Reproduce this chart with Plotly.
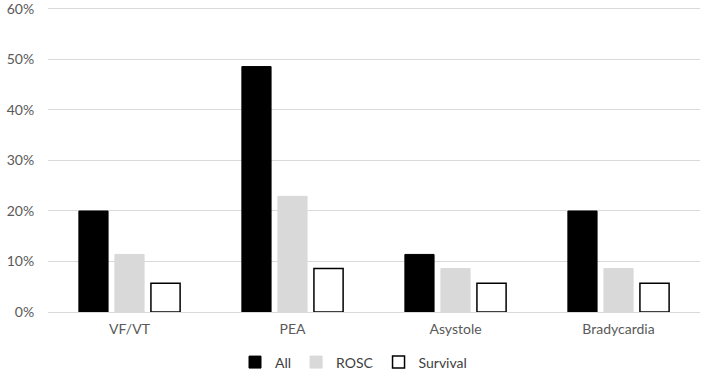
import plotly.graph_objects as go

categories = ["VF/VT", "PEA", "Asystole", "Bradycardia"]
all_vals = [20.0, 48.6, 11.4, 20.0]
rosc_vals = [11.4, 22.9, 8.6, 8.6]
survival_vals = [5.7, 8.6, 5.7, 5.7]
tick_vals = [0, 10, 20, 30, 40, 50, 60]
tick_text = ["0%", "10%", "20%", "30%", "40%", "50%", "60%"]

font = "Lato, 'Open Sans', sans-serif"

fig = go.Figure()
fig.add_bar(name="All", x=categories, y=all_vals,
            marker=dict(color="#000000", line=dict(color="#000000", width=1)))
fig.add_bar(name="ROSC", x=categories, y=rosc_vals,
            marker=dict(color="#d9d9d9", line=dict(color="#d9d9d9", width=1)))
fig.add_bar(name="Survival", x=categories, y=survival_vals,
            marker=dict(color="#ffffff", line=dict(color="#000000", width=1.5)))

fig.update_layout(
    width=707, height=382,
    margin=dict(l=48, r=7, t=6, b=70, autoexpand=False),
    plot_bgcolor="white", paper_bgcolor="white",
    barmode="group", bargap=0.337, bargroupgap=0.19,
    font=dict(family=font, size=14, color="#595959"),
    showlegend=True,
    legend=dict(orientation="h", xref="container", x=0.5, xanchor="center",
                y=-0.165, yanchor="middle", itemwidth=30,
                font=dict(size=14, color="#404040"),
                tracegroupgap=0),
    xaxis=dict(showgrid=False, showline=True, linecolor="#d9d9d9", linewidth=1,
               ticks="outside", ticklen=4, tickcolor="rgba(0,0,0,0)",
               automargin=False,
               tickfont=dict(size=14, color="#595959")),
    yaxis=dict(range=[0, 60.59], tickvals=tick_vals, ticktext=tick_text,
               showgrid=True, gridcolor="#d9d9d9", gridwidth=1,
               zeroline=False, showline=False,
               ticks="outside", ticklen=10, tickcolor="rgba(0,0,0,0)",
               automargin=False, ticklabeloverflow="allow",
               tickfont=dict(size=14, color="#595959")),
)

fig.write_html("out.html", config={"displayModeBar": False},
               post_script="document.body.style.margin='0';")
